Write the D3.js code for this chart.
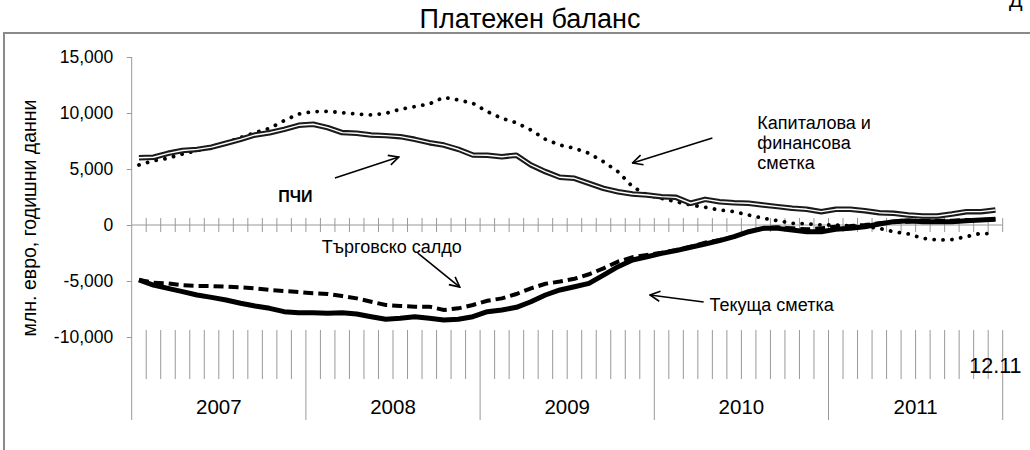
<!DOCTYPE html>
<html>
<head>
<meta charset="utf-8">
<script src="https://cdn.jsdelivr.net/npm/d3@7"></script>
<style>
  body { margin: 0; background: #fff; }
  svg { display: block; font-family: Arial, "Liberation Sans", sans-serif; }
</style>
</head>
<body>
<div id="chart"></div>
<script>
var width = 1030,
    height = 450;

// categories
var years = ["2007", "2008", "2009", "2010", "2011"];
var lastLabel = "12.11";
var yTicks = [15000, 10000, 5000, 0, -5000, -10000];

// monthly series, Jan 2007 .. Dec 2011 (mln. EUR, 12-month rolling)
var fdi = [6000, 6050, 6400, 6650, 6750, 6950, 7300, 7650, 8040, 8240, 8540, 8900,
           9000, 8700, 8250, 8190, 8040, 7980, 7890, 7650, 7350, 7140, 6760, 6250,
           6230, 6100, 6230, 5360, 4760, 4260, 4170, 3720, 3270, 2970, 2770, 2680,
           2530, 2470, 1940, 2290, 2080, 1990, 1940, 1790, 1640, 1490, 1400, 1190,
           1400, 1400, 1280, 1100, 1040, 890, 800, 800, 980, 1190, 1190, 1340];
var capFin = [5360, 5740, 5960, 6340, 6640, 7000, 7350, 7800, 8240, 8630, 9320, 9910,
              10120, 10150, 10030, 9910, 9820, 9970, 10330, 10570, 10800, 11400, 11160, 10870,
              10120, 9520, 9130, 8480, 7650, 7140, 6850, 6400, 5650, 4760, 3420, 2680,
              2380, 2080, 1790, 1580, 1340, 1190, 890, 600, 390, 150, 100, 0,
              0, -90, -150, -300, -600, -800, -1190, -1340, -1300, -1040, -740, -800];
var trade = [-4910, -5150, -5210, -5370, -5450, -5450, -5510, -5570, -5660, -5800, -5890, -5980,
             -6100, -6160, -6340, -6550, -6850, -7140, -7230, -7290, -7290, -7590, -7440, -7140,
             -6760, -6550, -6160, -5660, -5250, -5050, -4800, -4400, -3870, -3270, -2880, -2680,
             -2470, -2230, -1940, -1580, -1340, -1040, -600, -300, -210, -300, -390, -300,
             -150, -90, 0, 150, 300, 300, 390, 390, 390, 450, 450, 510];
var current = [-4910, -5360, -5660, -5950, -6250, -6460, -6700, -6990, -7230, -7440, -7740, -7830,
               -7830, -7890, -7830, -7950, -8190, -8420, -8330, -8190, -8330, -8480, -8420, -8190,
               -7740, -7590, -7350, -6850, -6250, -5800, -5510, -5210, -4470, -3720, -3130, -2830,
               -2530, -2290, -1990, -1700, -1400, -1040, -600, -300, -300, -450, -600, -600,
               -390, -300, -150, 90, 300, 390, 300, 300, 300, 390, 450, 510];

var nMonths = years.length * 12;

var svg = d3.select('#chart').append('svg')
    .attr('width', width)
    .attr('height', height);

// scales
var x0 = 131.7, x1 = 1002.7;
let scaleX = d3.scaleLinear().domain([0, nMonths]).range([x0, x1]);
let scaleY = d3.scaleLinear().domain([-10000, 15000]).range([337, 57]);
let mx = i => scaleX(i + 0.5);

var fmt = d3.formatLocale({decimal: ".", thousands: ",", grouping: [3], currency: ["", ""], minus: "-"}).format(",");

function label(parent, x, y, txt, size, anchor, weight) {
    var t = parent.append("text")
        .attr("x", x)
        .attr("y", y)
        .attr("font-size", size)
        .attr("text-anchor", anchor || "start")
        .attr("fill", "#000")
        .text(txt);
    if (weight) t.attr("font-weight", weight);
    return t;
}

// outer frame
svg.append("rect")
    .attr("x", 4).attr("y", 33)
    .attr("width", 1060).attr("height", 440)
    .attr("fill", "none")
    .attr("stroke", "#8a8a8a")
    .attr("stroke-width", 2);

// cut-off corner text and title
label(svg, 1009, 7, "Д", 20, "start");
label(svg, 530, 28, "Платежен баланс", 27, "middle");

// y axis title
svg.append("text")
    .attr("transform", "translate(36,218) rotate(-90)")
    .attr("font-size", 19.5)
    .attr("text-anchor", "middle")
    .text("млн. евро, годишни данни");

var gridCol = "#999";

// y axis
var yAxis = svg.append("g").attr("transform", "translate(" + x0 + ",0)");
yAxis.call(d3.axisLeft(scaleY).tickValues(yTicks).tickSize(5).tickFormat(""));
yAxis.select(".domain").remove();
yAxis.selectAll("line").attr("stroke", gridCol);
yAxis.append("line")
    .attr("x1", 0).attr("x2", 0)
    .attr("y1", scaleY(15000)).attr("y2", 420)
    .attr("stroke", gridCol);
yTicks.forEach(function(v) {
    label(yAxis, -18.5, scaleY(v) + 6.2, fmt(v), 17.5, "end");
});

// zero line with crossing month ticks
var zero = svg.append("g").attr("transform", "translate(0," + scaleY(0) + ")");
zero.append("line")
    .attr("x1", x0).attr("x2", x1)
    .attr("stroke", gridCol);
zero.selectAll(".zt").data(d3.range(1, nMonths + 1)).enter()
    .append("line")
    .attr("class", "zt")
    .attr("x1", d => scaleX(d)).attr("x2", d => scaleX(d))
    .attr("y1", -7).attr("y2", 7)
    .attr("stroke", gridCol);

// category label area at the bottom
var cat = svg.append("g");
cat.selectAll(".mt").data(d3.range(1, nMonths + 1)).enter()
    .append("line")
    .attr("class", "mt")
    .attr("x1", d => scaleX(d)).attr("x2", d => scaleX(d))
    .attr("y1", 330)
    .attr("y2", d => d % 12 === 0 ? 420 : 379)
    .attr("stroke", gridCol);
years.forEach(function(yr, k) {
    label(cat, scaleX(k * 12 + 6), 414, yr, 20.5, "middle");
});
label(cat, mx(nMonths - 1), 373, lastLabel, 21.5, "middle");

// series
var line = d3.line()
    .x((d, i) => mx(i))
    .y(d => scaleY(d));

var plot = svg.append("g");
plot.append("path").datum(trade)
    .attr("d", line)
    .attr("fill", "none")
    .attr("stroke", "#000")
    .attr("stroke-width", 4)
    .attr("stroke-dasharray", "10,5");
plot.append("path").datum(current)
    .attr("d", line)
    .attr("fill", "none")
    .attr("stroke", "#000")
    .attr("stroke-width", 5)
    .attr("stroke-linejoin", "round");
plot.append("path").datum(capFin)
    .attr("d", line)
    .attr("fill", "none")
    .attr("stroke", "#000")
    .attr("stroke-width", 3.8)
    .attr("stroke-linecap", "round")
    .attr("stroke-dasharray", "0.1,8.8");
plot.append("path").datum(fdi)
    .attr("d", line)
    .attr("fill", "none")
    .attr("stroke", "#1a1a1a")
    .attr("stroke-width", 5.5)
    .attr("stroke-linejoin", "round");
plot.append("path").datum(fdi)
    .attr("d", line)
    .attr("fill", "none")
    .attr("stroke", "#fff")
    .attr("stroke-width", 1.4)
    .attr("stroke-linejoin", "round");

// annotations, placed in data space: [month index, value]
var arrows = [
    [[13.5, 4200], [17.9, 6070]],
    [[19.2, -2500], [22.1, -5540]],
    [[39.5, 7770], [34.0, 5540]],
    [[38.9, -6880], [35.2, -6250]]
];

svg.append("defs").append("marker")
    .attr("id", "head")
    .attr("viewBox", "0 0 12 12")
    .attr("refX", 11).attr("refY", 6)
    .attr("markerWidth", 12).attr("markerHeight", 12)
    .attr("markerUnits", "userSpaceOnUse")
    .attr("orient", "auto")
    .append("path")
    .attr("d", "M1,1 L11,6 L1,11")
    .attr("fill", "none")
    .attr("stroke", "#000")
    .attr("stroke-width", 1.6);

svg.selectAll(".arrow").data(arrows).enter()
    .append("line")
    .attr("class", "arrow")
    .attr("x1", d => mx(d[0][0])).attr("y1", d => scaleY(d[0][1]))
    .attr("x2", d => mx(d[1][0])).attr("y2", d => scaleY(d[1][1]))
    .attr("stroke", "#000")
    .attr("stroke-width", 1.6)
    .attr("marker-end", "url(#head)");

label(svg, mx(9.6), scaleY(2050), "ПЧИ", 16, "start", "bold");
label(svg, mx(12.6), scaleY(-2500), "Търговско салдо", 18, "start");
label(svg, mx(39.3), scaleY(-7680), "Текуща сметка", 18, "start");
["Капиталова и", "финансова", "сметка"].forEach(function(s, k) {
    label(svg, mx(42.6), scaleY(8570 - k * 1790), s, 18, "start");
});
</script>
</body>
</html>
